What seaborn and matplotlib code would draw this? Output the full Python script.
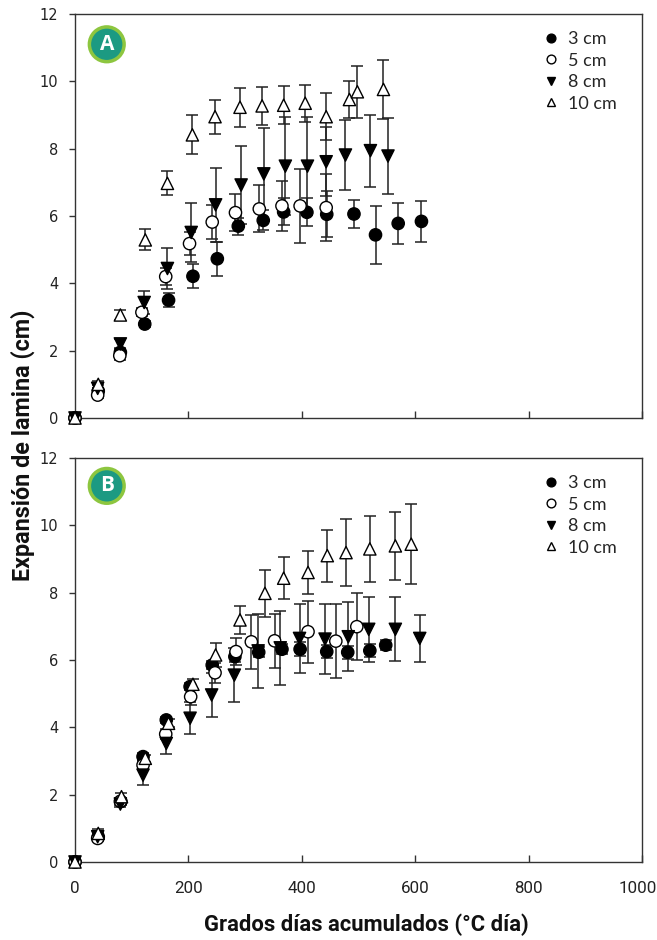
import numpy as np
import pandas as pd
import matplotlib
matplotlib.use("Agg")
import matplotlib.pyplot as plt
import matplotlib.transforms as mtransforms
from matplotlib.lines import Line2D
import seaborn as sns

# ---------------- data ----------------
series = ["3 cm", "5 cm", "8 cm", "10 cm"]

# Panel A
a3_x = [0, 41, 80, 123, 165, 208, 251, 288, 332, 368, 409, 444, 492, 530, 570, 611]
a3_y = [0, 0.80, 1.95, 2.79, 3.50, 4.21, 4.73, 5.70, 5.87, 6.12, 6.11, 6.05, 6.06, 5.44, 5.78, 5.84]
a3_e = [0, 0.08, 0.12, 0.08, 0.20, 0.35, 0.50, 0.25, 0.30, 0.40, 0.42, 0.68, 0.43, 0.87, 0.60, 0.60]

a5_x = [0, 40, 79, 118, 160, 202, 242, 283, 325, 365, 397, 443]
a5_y = [0, 0.68, 1.85, 3.14, 4.20, 5.18, 5.82, 6.10, 6.21, 6.30, 6.30, 6.25]
a5_e = [0, 0.08, 0.12, 0.12, 0.25, 0.35, 0.50, 0.55, 0.70, 0.75, 1.10, 1.00]

a8_x = [0, 40, 80, 122, 163, 205, 248, 293, 333, 371, 410, 443, 477, 521, 552]
a8_y = [0, 0.88, 2.20, 3.43, 4.44, 5.51, 6.33, 6.92, 7.25, 7.48, 7.48, 7.61, 7.81, 7.94, 7.78]
a8_e = [0, 0.10, 0.15, 0.33, 0.60, 0.88, 1.10, 1.15, 1.37, 1.45, 1.45, 1.03, 1.05, 1.07, 1.14]

a10_x = [0, 41, 80, 124, 163, 207, 247, 291, 330, 368, 406, 443, 484, 498, 544]
a10_y = [0, 1.00, 3.06, 5.29, 6.97, 8.41, 8.95, 9.23, 9.27, 9.29, 9.35, 8.95, 9.46, 9.69, 9.76]
a10_e = [0, 0.10, 0.15, 0.31, 0.36, 0.58, 0.50, 0.58, 0.57, 0.57, 0.55, 0.70, 0.56, 0.77, 0.87]

# Panel B
b3_x = [0, 41, 81, 120, 161, 203, 242, 282, 324, 365, 397, 444, 481, 520, 548]
b3_y = [0, 0.75, 1.80, 3.13, 4.22, 5.21, 5.85, 6.10, 6.23, 6.32, 6.32, 6.25, 6.23, 6.28, 6.44]
b3_e = [0, 0.08, 0.10, 0.10, 0.10, 0.10, 0.12, 0.15, 0.15, 0.15, 0.20, 0.20, 0.20, 0.20, 0.15]

b5_x = [0, 40, 80, 120, 160, 204, 247, 284, 311, 352, 411, 460, 497]
b5_y = [0, 0.70, 1.80, 2.88, 3.80, 4.91, 5.62, 6.25, 6.54, 6.57, 6.84, 6.56, 6.99]
b5_e = [0, 0.08, 0.10, 0.12, 0.15, 0.25, 0.30, 0.40, 0.80, 0.80, 0.92, 1.10, 1.00]

b8_x = [0, 40, 80, 120, 161, 203, 241, 281, 323, 362, 396, 441, 482, 518, 565, 608]
b8_y = [0, 0.75, 1.72, 2.58, 3.52, 4.27, 4.96, 5.55, 6.27, 6.36, 6.64, 6.62, 6.69, 6.91, 6.91, 6.64]
b8_e = [0, 0.10, 0.10, 0.30, 0.30, 0.47, 0.64, 0.80, 1.09, 1.09, 1.03, 1.03, 1.03, 0.96, 0.95, 0.71]

b10_x = [0, 41, 82, 124, 165, 208, 248, 291, 335, 368, 411, 445, 478, 520, 565, 593]
b10_y = [0, 0.85, 1.94, 3.08, 4.12, 5.28, 6.15, 7.19, 7.98, 8.43, 8.60, 9.10, 9.19, 9.30, 9.39, 9.44]
b10_e = [0, 0.12, 0.10, 0.10, 0.12, 0.15, 0.35, 0.41, 0.70, 0.63, 0.65, 0.77, 0.99, 0.98, 1.02, 1.19]

x_ticks = [0, 200, 400, 600, 800, 1000]
y_ticks = [0, 2, 4, 6, 8, 10, 12]
panel_labels = ["A", "B"]
x_label = "Grados días acumulados (°C día)"
y_label = "Expansión de lamina (cm)"


def frame(xs, ys, es):
    parts = []
    for name, x, y, e in zip(series, xs, ys, es):
        parts.append(pd.DataFrame({"gd": x, "exp": y, "err": e, "serie": name}))
    return pd.concat(parts, ignore_index=True)


df_a = frame([a3_x, a5_x, a8_x, a10_x], [a3_y, a5_y, a8_y, a10_y], [a3_e, a5_e, a8_e, a10_e])
df_b = frame([b3_x, b5_x, b8_x, b10_x], [b3_y, b5_y, b8_y, b10_y], [b3_e, b5_e, b8_e, b10_e])

# ---------------- style ----------------
sns.set_style("ticks")
plt.rcParams["font.family"] = ["DejaVu Sans"]

palette = {"3 cm": "black", "5 cm": "white", "8 cm": "black", "10 cm": "white"}
markers = {"3 cm": "o", "5 cm": "o", "8 cm": "v", "10 cm": "^"}
narrow = ["Roboto", "DejaVu Sans"]
teal = "#1c9a82"
lime = "#8dc63f"

fig = plt.figure(figsize=(6.57, 9.40), dpi=100)
ax_a = fig.add_axes([75 / 657, 1 - 418 / 940, 567 / 657, 404 / 940])
ax_b = fig.add_axes([75 / 657, 1 - 862 / 940, 567 / 657, 404 / 940])

for ax, df, lab, by in [(ax_a, df_a, panel_labels[0], 0.925), (ax_b, df_b, panel_labels[1], 0.931)]:
    for name in series:
        sub = df[(df["serie"] == name) & (df["err"] > 0)]
        ax.errorbar(sub["gd"], sub["exp"], yerr=sub["err"], fmt="none",
                    ecolor="#222222", elinewidth=1.1, capsize=4.6, capthick=1.1,
                    zorder=2)
    sns.scatterplot(data=df, x="gd", y="exp", hue="serie", style="serie",
                    palette=palette, markers=markers, hue_order=series,
                    style_order=series, s=78, edgecolor="black", linewidth=1.0,
                    legend=False, ax=ax, zorder=3, clip_on=False)
    ax.set_xlim(0, 1000)
    ax.set_ylim(0, 12)
    ax.set_xticks(x_ticks)
    ax.set_yticks(y_ticks)
    ax.set_xlabel("")
    ax.set_ylabel("")
    for sp in ax.spines.values():
        sp.set_visible(True)
        sp.set_color("#333333")
        sp.set_linewidth(1.0)
    ax.tick_params(axis="y", direction="out", length=4, width=1, pad=8,
                   labelsize=10.5, colors="#333333", labelcolor="#222222")
    ax.tick_params(axis="x", direction="in", length=5, width=1, pad=14,
                   colors="#333333", labelcolor="#222222")
    xtl = ax.get_xticklabels()
    for t in xtl:
        t.set_family(narrow)
        t.set_fontsize(12.2)
    xtl[-1].set_transform(xtl[-1].get_transform() +
                          mtransforms.ScaledTranslation(-4 / 100, 0, fig.dpi_scale_trans))

    ax.text(0.056, by, lab, transform=ax.transAxes, ha="center", va="center",
            color="white", fontsize=15, fontweight="bold", family=["Open Sans", "DejaVu Sans"],
            bbox=dict(boxstyle="circle,pad=0.33", fc=teal, ec=lime, lw=2.5),
            zorder=5)

    handles = [Line2D([], [], ls="", marker=markers[n], markersize=6.3,
                      markerfacecolor=palette[n], markeredgecolor="black",
                      markeredgewidth=1.0) for n in series]
    ax.legend(handles, series, loc="upper left", bbox_to_anchor=(0.81, 0.975),
              frameon=False, handlelength=1.0, handletextpad=0.45,
              labelspacing=0.3, borderaxespad=0.0,
              prop={"family": ["Lato", "DejaVu Sans"], "size": 13})

ax_a.tick_params(axis="x", labelbottom=False)

fig.text(366 / 657, 1 - 925 / 940, x_label, ha="center", va="center",
         fontsize=15.8, fontweight="bold", family=narrow, color="#111111")
fig.text(23 / 657, 1 - 445 / 940, y_label, ha="center", va="center",
         rotation=90, fontsize=16.8, fontweight="bold", family=narrow, color="#111111")

fig.savefig("out.png", dpi=100)
